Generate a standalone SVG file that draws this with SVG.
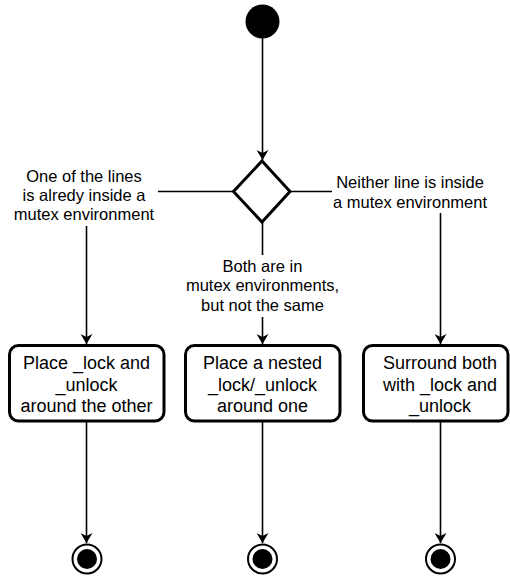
<svg xmlns="http://www.w3.org/2000/svg" width="510" height="576" viewBox="0 0 510 576">
  <defs>
    <marker id="arr" viewBox="0 0 10 12" refX="10" refY="6" markerWidth="10" markerHeight="12" markerUnits="userSpaceOnUse" orient="auto">
      <path d="M0,0 L10,6 L0,12 L3,6 Z" fill="#000"/>
    </marker>
  </defs>
  <style>
    .edge { stroke: #000; stroke-width: 1.6; fill: none; }
    .box { fill: #fff; stroke: #000; stroke-width: 3; }
    .lbl { font-family: "Liberation Sans", Arial, Helvetica, sans-serif; font-size: 16.5px; fill: #000; text-anchor: middle; }
    .txt { font-family: "Liberation Sans", Arial, Helvetica, sans-serif; font-size: 18px; fill: #000; text-anchor: middle; }
  </style>
  <rect width="510" height="576" fill="#fff"/>

  <g id="connectors">
    <line class="edge" x1="262.5" y1="38" x2="262.5" y2="160" marker-end="url(#arr)"/>
    <polyline class="edge" points="233,191.5 158,191.5"/>
    <line class="edge" x1="86.5" y1="226" x2="86.5" y2="344" marker-end="url(#arr)"/>
    <polyline class="edge" points="290,191.5 332,191.5"/>
    <line class="edge" x1="440.5" y1="213" x2="440.5" y2="344" marker-end="url(#arr)"/>
    <line class="edge" x1="262.5" y1="222" x2="262.5" y2="255"/>
    <line class="edge" x1="262.5" y1="317" x2="262.5" y2="344" marker-end="url(#arr)"/>
    <line class="edge" x1="86.5" y1="421" x2="86.5" y2="543" marker-end="url(#arr)"/>
    <line class="edge" x1="262.5" y1="421" x2="262.5" y2="543" marker-end="url(#arr)"/>
    <line class="edge" x1="440.5" y1="421" x2="440.5" y2="543" marker-end="url(#arr)"/>
  </g>

  <g id="labels">
    <text class="lbl"><tspan x="84" y="181.5">One of the lines</tspan><tspan x="84" y="200.5">is alredy inside a</tspan><tspan x="84" y="220">mutex environment</tspan></text>
    <text class="lbl"><tspan x="410" y="188">Neither line is inside</tspan><tspan x="410" y="207.5">a mutex environment</tspan></text>
    <text class="lbl"><tspan x="262.5" y="271.5">Both are in</tspan><tspan x="262.5" y="291">mutex environments,</tspan><tspan x="262.5" y="310.5">but not the same</tspan></text>
  </g>

  <g id="start">
    <circle cx="262.5" cy="21.5" r="17" fill="#000"/>
  </g>

  <g id="decision">
    <polygon points="262,161 290,191.5 262,222 233.5,191.5" fill="#fff" stroke="#000" stroke-width="3" stroke-linejoin="miter"/>
  </g>

  <g id="action1">
    <rect class="box" x="9.5" y="345.5" width="154.5" height="75.5" rx="9"/>
    <text class="txt"><tspan x="86.5" y="369">Place _lock and</tspan><tspan x="86.5" y="390.5">_unlock</tspan><tspan x="86.5" y="411.5">around the other</tspan></text>
  </g>

  <g id="action2">
    <rect class="box" x="185.5" y="345.5" width="154.5" height="75.5" rx="9"/>
    <text class="txt"><tspan x="262.5" y="369">Place a nested</tspan><tspan x="262.5" y="390.5">_lock/_unlock</tspan><tspan x="262.5" y="411.5">around one</tspan></text>
  </g>

  <g id="action3">
    <rect class="box" x="363.5" y="345.5" width="144.5" height="75.5" rx="9"/>
    <text class="txt"><tspan x="440" y="369">Surround both</tspan><tspan x="440" y="390.5">with _lock and</tspan><tspan x="440" y="411.5">_unlock</tspan></text>
  </g>

  <g id="end1">
    <circle cx="87" cy="559" r="14.5" fill="#fff" stroke="#000" stroke-width="2"/>
    <circle cx="87" cy="559" r="10" fill="#000"/>
  </g>
  <g id="end2">
    <circle cx="262.5" cy="559" r="14.5" fill="#fff" stroke="#000" stroke-width="2"/>
    <circle cx="262.5" cy="559" r="10" fill="#000"/>
  </g>
  <g id="end3">
    <circle cx="440.5" cy="559" r="14.5" fill="#fff" stroke="#000" stroke-width="2"/>
    <circle cx="440.5" cy="559" r="10" fill="#000"/>
  </g>
</svg>
